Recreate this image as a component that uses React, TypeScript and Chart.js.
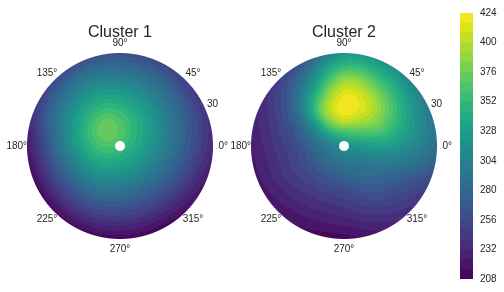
import React, { useEffect, useRef } from "react";
import { Chart, registerables } from "chart.js";

Chart.register(...registerables);

// ---------- data ----------
const thetaDeg = [0, 30, 60, 90, 120, 150, 180, 210, 240, 270, 300, 330];
const radii = [0, 4.29, 8.57, 12.86, 17.14, 21.43, 25.71, 30];

// rows: one per angle in thetaDeg, columns: one per radius in radii
const cluster1Grid: number[][] = [
  [356, 342, 325, 307, 288, 269, 250, 232],
  [356, 349, 336, 319, 300, 281, 262, 243],
  [356, 357, 348, 332, 314, 294, 273, 253],
  [356, 366, 361, 345, 324, 303, 282, 260],
  [356, 372, 373, 354, 332, 309, 286, 260],
  [356, 370, 368, 347, 323, 298, 274, 248],
  [356, 362, 352, 331, 305, 277, 248, 220],
  [356, 352, 338, 315, 290, 264, 238, 212],
  [356, 344, 327, 307, 284, 260, 236, 213],
  [356, 339, 319, 298, 276, 254, 232, 210],
  [356, 336, 317, 295, 274, 253, 231, 211],
  [356, 337, 319, 299, 279, 259, 238, 219],
];

const cluster2Grid: number[][] = [
  [316, 320, 327, 329, 321, 311, 300, 285],
  [316, 341, 363, 374, 363, 344, 321, 298],
  [316, 355, 392, 408, 400, 374, 344, 314],
  [316, 358, 407, 423, 412, 388, 352, 318],
  [316, 347, 378, 385, 358, 320, 290, 262],
  [316, 322, 318, 300, 280, 263, 248, 236],
  [316, 300, 284, 268, 254, 243, 233, 224],
  [316, 296, 278, 262, 250, 240, 230, 220],
  [316, 293, 275, 259, 246, 235, 225, 215],
  [316, 295, 279, 262, 248, 236, 224, 212],
  [316, 300, 288, 276, 264, 252, 240, 228],
  [316, 308, 300, 292, 282, 270, 258, 246],
];

const levels = [
  208, 216, 224, 232, 240, 248, 256, 264, 272, 280, 288, 296, 304, 312, 320,
  328, 336, 344, 352, 360, 368, 376, 384, 392, 400, 408, 416, 424,
];
const colorbarTicks = [208, 232, 256, 280, 304, 328, 352, 376, 400, 424];
const angleLabelDeg = [0, 45, 90, 135, 180, 225, 270, 315];
const angleLabels = ["0°", "45°", "90°", "135°", "180°", "225°", "270°", "315°"];
const rMax = 30;
const radialTickLabel = "30";
const radialTickAngle = 22.5;
const holeRadius = 1.6;
const titles = ["Cluster 1", "Cluster 2"];

// ---------- colormap ----------
const VIRIDIS = [
  "#440154", "#481568", "#482677", "#453781", "#3F4788", "#39558C", "#32648E",
  "#2D718E", "#287D8E", "#238A8D", "#1F968B", "#20A386", "#29AF7F", "#3CBC75",
  "#56C667", "#75D054", "#95D840", "#BADE28", "#DDE318", "#FDE725",
];
const hexToRgb = (h: string) => [
  parseInt(h.slice(1, 3), 16),
  parseInt(h.slice(3, 5), 16),
  parseInt(h.slice(5, 7), 16),
];
const VIR_RGB = VIRIDIS.map(hexToRgb);
function viridis(t: number): number[] {
  const x = Math.max(0, Math.min(1, t)) * (VIR_RGB.length - 1);
  const i = Math.min(VIR_RGB.length - 2, Math.floor(x));
  const f = x - i;
  return [0, 1, 2].map((k) => Math.round(VIR_RGB[i][k] * (1 - f) + VIR_RGB[i + 1][k] * f));
}
const nBands = levels.length - 1;
const bandRgb = levels.slice(0, -1).map((_, i) => viridis((i + 0.5) / nBands));
const bandCss = bandRgb.map((c) => `rgb(${c[0]},${c[1]},${c[2]})`);

// ---------- field sampling (smooth interpolation of the polar grid) ----------
function cr(p0: number, p1: number, p2: number, p3: number, t: number) {
  return 0.5 * (2 * p1 + (-p0 + p2) * t + (2 * p0 - 5 * p1 + 4 * p2 - p3) * t * t + (-p0 + 3 * p1 - 3 * p2 + p3) * t * t * t);
}
function gridVal(grid: number[][], ai: number, ri: number): number {
  const nA = thetaDeg.length;
  const last = radii.length - 1;
  let a = ((ai % nA) + nA) % nA;
  if (ri < 0) {
    a = (a + nA / 2) % nA;
    ri = -ri;
  }
  if (ri > last) return 2 * grid[a][last] - grid[a][last - 1];
  return grid[a][ri];
}
function sampleField(grid: number[][], r: number, thDeg: number): number {
  const step = 360 / thetaDeg.length;
  const af = thDeg / step;
  const ia = Math.floor(af);
  const ta = af - ia;
  let ir = 0;
  while (ir < radii.length - 2 && r > radii[ir + 1]) ir++;
  const tr = Math.max(0, Math.min(1, (r - radii[ir]) / (radii[ir + 1] - radii[ir])));
  const rows: number[] = [];
  for (let j = -1; j <= 2; j++) {
    const rj = ir + j;
    rows.push(
      cr(gridVal(grid, ia - 1, rj), gridVal(grid, ia, rj), gridVal(grid, ia + 1, rj), gridVal(grid, ia + 2, rj), ta)
    );
  }
  return cr(rows[0], rows[1], rows[2], rows[3], tr);
}

const FONT = "'Liberation Sans', Arial, 'DejaVu Sans', sans-serif";
const TEXT = "#262626";

function makePolarPlugin(grid: number[][], title: string) {
  return {
    id: "polarField",
    afterDraw(chart: any) {
      const { ctx } = chart;
      const xs = chart.scales.x;
      const ys = chart.scales.y;
      const cx = xs.getPixelForValue(0);
      const cy = ys.getPixelForValue(0);
      const Rpx = xs.getPixelForValue(rMax) - cx;
      const holePx = xs.getPixelForValue(holeRadius) - cx;
      const left = Math.floor(cx - Rpx - 2);
      const top = Math.floor(cy - Rpx - 2);
      const size = Math.ceil(2 * Rpx + 5);
      const off = document.createElement("canvas");
      off.width = size;
      off.height = size;
      const octx = off.getContext("2d")!;
      const img = octx.createImageData(size, size);
      for (let py = 0; py < size; py++) {
        for (let px = 0; px < size; px++) {
          const X = left + px + 0.5;
          const Y = top + py + 0.5;
          const ux = xs.getValueForPixel(X);
          const uy = ys.getValueForPixel(Y);
          const r = Math.hypot(ux, uy);
          const dpx = (r * Rpx) / rMax;
          let a = Math.max(0, Math.min(1, Rpx - dpx + 0.5));
          a = Math.min(a, Math.max(0, Math.min(1, dpx - holePx + 0.5)));
          if (a <= 0) continue;
          const th = ((Math.atan2(uy, ux) * 180) / Math.PI + 360) % 360;
          const v = sampleField(grid, Math.min(r, rMax), th);
          let bi = Math.floor((v - levels[0]) / (levels[1] - levels[0]));
          bi = Math.max(0, Math.min(nBands - 1, bi));
          const c = bandRgb[bi];
          const k = (py * size + px) * 4;
          img.data[k] = c[0];
          img.data[k + 1] = c[1];
          img.data[k + 2] = c[2];
          img.data[k + 3] = Math.round(a * 255);
        }
      }
      octx.putImageData(img, 0, 0);
      ctx.save();
      ctx.drawImage(off, left, top);

      // angle labels
      ctx.fillStyle = TEXT;
      ctx.font = `10px ${FONT}`;
      ctx.textAlign = "center";
      ctx.textBaseline = "middle";
      const lr = rMax * 1.11;
      angleLabelDeg.forEach((d, i) => {
        const t = (d * Math.PI) / 180;
        ctx.fillText(angleLabels[i], xs.getPixelForValue(lr * Math.cos(t)), ys.getPixelForValue(lr * Math.sin(t)));
      });
      // radial tick label
      const tr = (radialTickAngle * Math.PI) / 180;
      ctx.textAlign = "left";
      ctx.textBaseline = "bottom";
      ctx.fillText(
        radialTickLabel,
        xs.getPixelForValue(rMax * Math.cos(tr)) + 1,
        ys.getPixelForValue(rMax * Math.sin(tr)) - 1
      );
      // title
      ctx.font = `16px ${FONT}`;
      ctx.textAlign = "center";
      ctx.textBaseline = "middle";
      ctx.fillText(title, cx, cy - Rpx - 20);
      ctx.restore();
    },
  };
}

function makePolar(canvas: HTMLCanvasElement, grid: number[][], title: string) {
  return new Chart(canvas, {
    type: "scatter",
    data: { datasets: [{ data: [] }] },
    options: {
      responsive: false,
      animation: false,
      devicePixelRatio: 1,
      layout: { padding: { left: 27, right: 27, top: 53, bottom: 53 } },
      plugins: { legend: { display: false }, tooltip: { enabled: false } },
      scales: {
        x: { type: "linear", min: -rMax, max: rMax, display: false },
        y: { type: "linear", min: -rMax, max: rMax, display: false },
      },
    },
    plugins: [makePolarPlugin(grid, title)],
  } as any);
}

function makeColorbar(canvas: HTMLCanvasElement) {
  return new Chart(canvas, {
    type: "bar",
    data: {
      labels: [""],
      datasets: levels.slice(0, -1).map((lo, i) => ({
        data: [[lo, levels[i + 1]]],
        backgroundColor: bandCss[i],
        borderWidth: 0,
        barPercentage: 1,
        categoryPercentage: 1,
        grouped: false,
      })),
    },
    options: {
      responsive: false,
      animation: false,
      devicePixelRatio: 1,
      layout: { padding: { left: 0, right: 0, top: 12, bottom: 13 } },
      plugins: { legend: { display: false }, tooltip: { enabled: false } },
      scales: {
        x: { display: false },
        y: {
          position: "right",
          min: levels[0],
          max: levels[levels.length - 1],
          grid: { display: false, drawTicks: false },
          border: { display: false },
          ticks: { color: TEXT, font: { family: FONT, size: 10 }, padding: 7 },
          afterBuildTicks: (axis: any) => {
            axis.ticks = colorbarTicks.map((v) => ({ value: v }));
          },
          afterFit: (axis: any) => {
            axis.width = 31;
          },
        },
      },
    },
  } as any);
}

export default function App() {
  const c1 = useRef<HTMLCanvasElement>(null);
  const c2 = useRef<HTMLCanvasElement>(null);
  const cb = useRef<HTMLCanvasElement>(null);
  useEffect(() => {
    const charts = [
      makePolar(c1.current!, cluster1Grid, titles[0]),
      makePolar(c2.current!, cluster2Grid, titles[1]),
      makeColorbar(cb.current!),
    ];
    return () => charts.forEach((c) => c.destroy());
  }, []);
  const abs = (left: number, w: number): React.CSSProperties => ({
    position: "absolute",
    left,
    top: 0,
    width: w,
    height: 292,
  });
  return (
    <div style={{ position: "fixed", left: 0, top: 0, width: 504, height: 292, background: "#fff", overflow: "hidden" }}>
      <canvas ref={c1} width={240} height={292} style={abs(0, 240)} />
      <canvas ref={c2} width={240} height={292} style={abs(224, 240)} />
      <canvas ref={cb} width={44} height={292} style={abs(460, 44)} />
    </div>
  );
}
